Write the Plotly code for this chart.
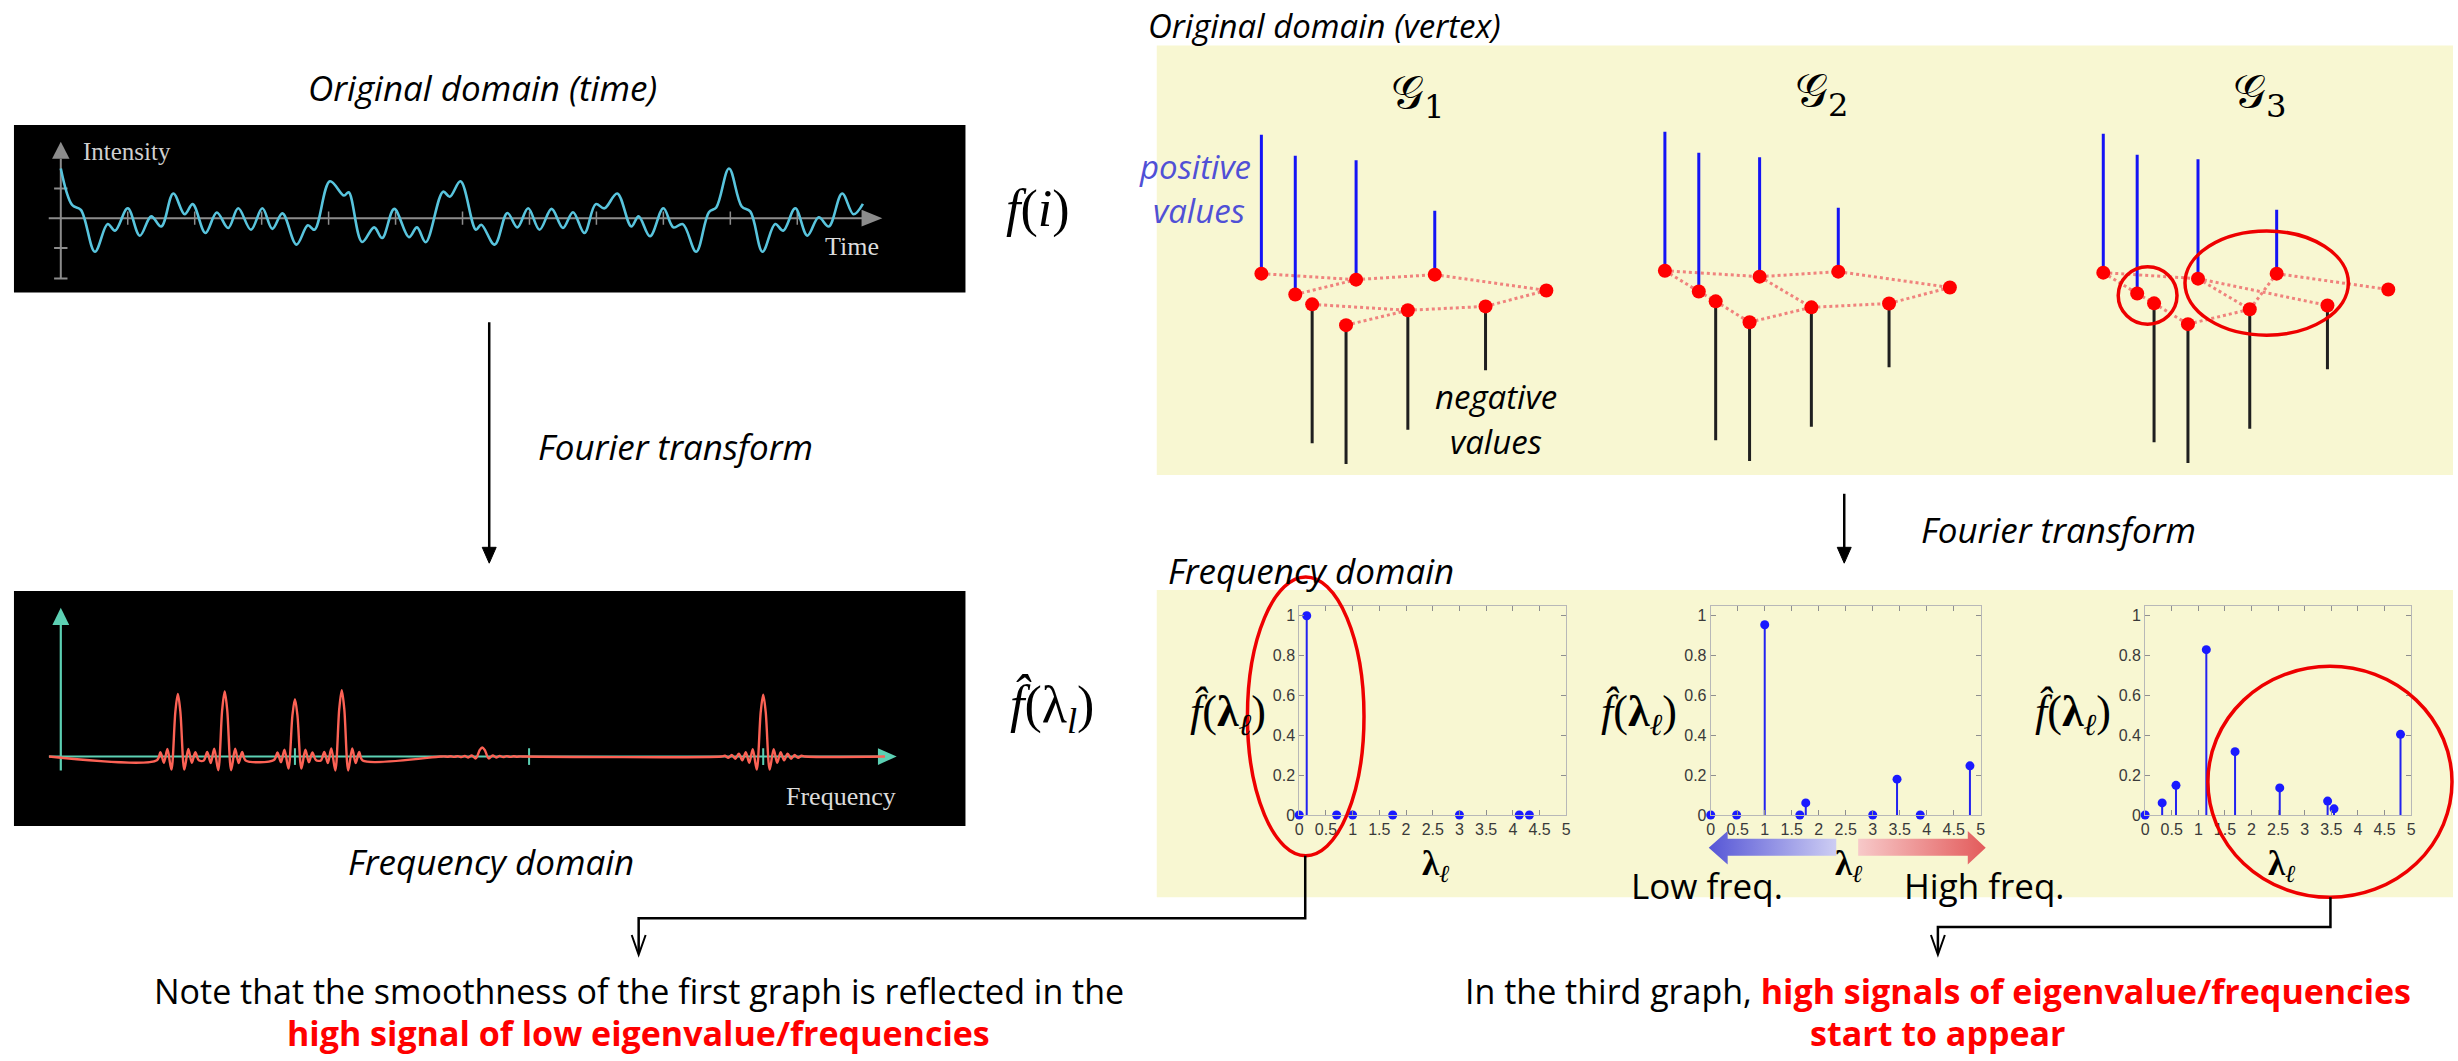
import plotly.graph_objects as go

W, H = 2458, 1061

# ---------------- data ----------------
# time-domain signal: extrema (t in tick units, value in tick units)
TIME_T = [0.0, 0.17, 0.30, 0.51, 0.70, 0.81, 1.0, 1.18, 1.35, 1.50, 1.68, 1.85, 1.97, 2.16,
          2.33, 2.50, 2.65, 2.84, 3.01, 3.16, 3.31, 3.52, 3.69, 3.79, 4.02, 4.23, 4.30, 4.50,
          4.68, 4.80, 4.98, 5.20, 5.32, 5.45, 5.71, 5.81, 5.97, 6.20, 6.28, 6.48, 6.67, 6.82,
          6.98, 7.15, 7.33, 7.50, 7.65, 7.82, 7.99, 8.12, 8.31, 8.52, 8.63, 8.80, 9.00, 9.15,
          9.29, 9.49, 9.68, 9.79, 9.98, 10.17, 10.30, 10.48, 10.67, 10.79, 10.97, 11.15,
          11.32, 11.47, 11.67, 11.84, 11.98]
TIME_V = [1.67, 0.44, 0.28, -1.13, -0.20, -0.42, 0.33, -0.59, 0.06, -0.28, 0.83, 0.13, 0.47, -0.50,
          0.19, -0.33, 0.33, -0.39, 0.33, -0.36, 0.16, -0.89, -0.24, -0.39, 1.24, 0.76, 0.87, -0.80,
          -0.31, -0.67, 0.31, -0.64, -0.31, -0.81, 0.89, 0.72, 1.24, -0.39, -0.22, -0.89, 0.17, -0.31,
          0.33, -0.39, 0.31, -0.33, 0.20, -0.50, 0.47, 0.33, 0.83, -0.28, 0.06, -0.61, 0.33, -0.31,
          -0.20, -1.13, 0.20, 0.36, 1.67, 0.39, 0.22, -1.13, -0.20, -0.42, 0.33, -0.59,
          0.03, -0.28, 0.83, 0.13, 0.48]
TIME_TICKS = [1, 2, 3, 4, 5, 6, 7, 8, 9, 10, 11]

# Fourier magnitude: peak positions / heights and the ringing profile around one peak
FREQ_PEAKS = [0.5, 0.7, 1.0, 1.2, 1.8, 3.0]
FREQ_HEIGHTS = [0.97, 1.01, 0.89, 1.03, 0.14, 0.96]
RING_OFFSET_PX = [0, 2.5, 6.5, 10.5, 14, 17.5, 21, 24.5, 28, 31.5, 35, 38.5, 42]
RING_VALUE = [1.0, 0.72, -0.21, 0.12, -0.10, 0.07, -0.06, 0.045, -0.035, 0.025, -0.02, 0.012, 0.0]
FREQ_TICKS = [1, 2, 3]

# graph signal: vertex layout (shared by the three graphs) and the values on each vertex
VERTEX_X = [0.0, 0.243, 0.364, 0.607, 0.679, 1.050, 1.243, 1.607, 2.043]
VERTEX_Y = [0.0, -0.150, -0.221, -0.371, -0.043, -0.264, -0.007, -0.236, -0.121]
SIGNAL = [1.0, 1.0, -1.0, -1.0, 0.86, -0.86, 0.46, -0.46, 0.0]
EDGES = {
    "1": [(0, 4), (1, 4), (4, 6), (6, 8), (2, 5), (3, 5), (5, 7), (7, 8)],
    "2": [(0, 1), (1, 2), (2, 3), (0, 4), (4, 6), (6, 8), (4, 5), (3, 5), (5, 7), (7, 8)],
    "3": [(0, 1), (1, 2), (2, 3), (0, 4), (3, 5), (4, 5), (4, 7), (5, 6), (6, 8)],
}

# graph Fourier coefficients
LAMBDA = {
    "1": [0, 0.14, 0.70, 1.00, 1.75, 3.00, 4.12, 4.31],
    "2": [0, 0.48, 1.00, 1.65, 1.76, 3.00, 3.45, 3.88, 4.80],
    "3": [0, 0.32, 0.58, 1.15, 1.69, 2.53, 3.43, 3.55, 4.80],
}
FHAT = {
    "1": [0, 1.0, 0, 0, 0, 0, 0, 0],
    "2": [0, 0, 0.955, 0, 0.061, 0, 0.18, 0, 0.247],
    "3": [0, 0.061, 0.149, 0.83, 0.318, 0.136, 0.07, 0.031, 0.405],
}

# ---------------- helpers ----------------
def fx(px):
    return px / W


def fy(py):
    return 1 - py / H


def path(points, close=False):
    s = "M" + " L".join(f"{fx(x):.5f},{fy(y):.5f}" for x, y in points)
    return s + (" Z" if close else "")


YELLOW = "#F8F7D2"
SANS = "Open Sans"
SERIF = "Liberation Serif"

fig = go.Figure()
layout_axes = {}
shapes = []
annotations = []


def frame(idx, box, origin, scale):
    """Axis pair whose domain is the pixel box and whose data units are scale px each."""
    l, t, r, b = box
    ox, oy = origin
    sx, sy = scale
    sfx = "" if idx == 1 else str(idx)
    base = dict(visible=False, fixedrange=True, showgrid=False, zeroline=False)
    layout_axes["xaxis" + sfx] = dict(base, domain=[fx(l), fx(r)], range=[(l - ox) / sx, (r - ox) / sx],
                                      anchor="y" + sfx)
    layout_axes["yaxis" + sfx] = dict(base, domain=[fy(b), fy(t)], range=[(oy - b) / sy, (oy - t) / sy],
                                      anchor="x" + sfx)
    return "x" + sfx, "y" + sfx


def text(x, y, s, size, color="black", family=SANS, xanchor="center"):
    annotations.append(dict(x=fx(x), y=fy(y), xref="paper", yref="paper", text=s, showarrow=False,
                            xanchor=xanchor, yanchor="middle",
                            font=dict(size=size, color=color, family=family)))


# ---------------- panels ----------------
for l, t, r, b, c in [(10, 126, 965, 295, "black"), (10, 596, 965, 833, "black"),
                      (1157, 46, 2458, 479, YELLOW), (1157, 595, 2458, 905, YELLOW)]:
    shapes.append(dict(type="rect", xref="paper", yref="paper", x0=fx(l), x1=fx(r), y0=fy(b), y1=fy(t),
                       fillcolor=c, line=dict(width=0), layer="below"))

# ---------------- time-domain panel ----------------
tx, ty = frame(1, (10, 126, 965, 295), (57, 220), (67.2, 30.0))
GREY = "#8c8c8c"
shapes += [
    dict(type="line", xref=tx, yref=ty, x0=-0.18, x1=11.97, y0=0, y1=0, line=dict(color=GREY, width=2), layer="below"),
    dict(type="path", xref=tx, yref=ty, path="M11.96,0.28 L12.27,0 L11.96,-0.28 Z", fillcolor=GREY,
         line=dict(width=0), layer="below"),
    dict(type="line", xref=tx, yref=ty, x0=0, x1=0, y0=-2.03, y1=2.0, line=dict(color=GREY, width=2), layer="below"),
    dict(type="path", xref=tx, yref=ty, path="M-0.13,2.0 L0,2.57 L0.13,2.0 Z", fillcolor=GREY,
         line=dict(width=0), layer="below"),
]
for yv in (1, -1, -2.03):
    shapes.append(dict(type="line", xref=tx, yref=ty, x0=-0.1, x1=0.1, y0=yv, y1=yv,
                       line=dict(color=GREY, width=2), layer="below"))
for tv in TIME_TICKS:
    shapes.append(dict(type="line", xref=tx, yref=ty, x0=tv, x1=tv, y0=-0.22, y1=0.22,
                       line=dict(color=GREY, width=1.5), layer="below"))
fig.add_trace(go.Scatter(x=TIME_T, y=TIME_V, xaxis=tx, yaxis=ty, mode="lines", hoverinfo="skip",
                         line=dict(color="#58C4DD", width=2.6, shape="spline", smoothing=1.0)))
text(77, 153, "Intensity", 25, "#cfcfcf", SERIF, "left")
text(880, 249, "Time", 26, "#dcdcdc", SERIF, "right")

# ---------------- frequency panel ----------------
FREQ_PX = 235.0
fxa, fya = frame(2, (10, 596, 965, 833), (57, 763), (FREQ_PX, 65.0))
TEAL = "#5CD0B3"
shapes += [
    dict(type="line", xref=fxa, yref=fya, x0=-0.051, x1=3.50, y0=0, y1=0, line=dict(color=TEAL, width=2.2), layer="below"),
    dict(type="path", xref=fxa, yref=fya, path="M3.49,0.13 L3.57,0 L3.49,-0.13 Z", fillcolor=TEAL,
         line=dict(width=0), layer="below"),
    dict(type="line", xref=fxa, yref=fya, x0=0, x1=0, y0=-0.215, y1=2.05, line=dict(color=TEAL, width=2.2), layer="below"),
    dict(type="path", xref=fxa, yref=fya, path="M-0.036,2.04 L0,2.31 L0.036,2.04 Z", fillcolor=TEAL,
         line=dict(width=0), layer="below"),
]
for fv in FREQ_TICKS:
    shapes.append(dict(type="line", xref=fxa, yref=fya, x0=fv, x1=fv, y0=-0.13, y1=0.13,
                       line=dict(color=TEAL, width=2), layer="below"))

pts = [(-0.05, 0.0), (3.52, 0.0)]
for i, (c, h) in enumerate(zip(FREQ_PEAKS, FREQ_HEIGHTS)):
    gaps = [abs(c - o) for j, o in enumerate(FREQ_PEAKS) if j != i]
    half = min(gaps) / 2
    for off_px, v in zip(RING_OFFSET_PX, RING_VALUE):
        off = off_px / FREQ_PX
        if off > 0 and off >= half:
            continue
        for s in ((1,) if off == 0 else (-1, 1)):
            pts.append((c + s * off, h * v))
pts.sort()
fig.add_trace(go.Scatter(x=[p[0] for p in pts], y=[p[1] for p in pts], xaxis=fxa, yaxis=fya,
                         mode="lines", hoverinfo="skip",
                         line=dict(color="#FC6255", width=2.4, shape="spline", smoothing=0.9)))
text(897, 803, "Frequency", 26, "#dcdcdc", SERIF, "right")

# ---------------- vertex-domain graphs ----------------
GRAPH_ANCHORS = {"1": (1262, 276), "2": (1667, 273), "3": (2107, 275)}
for k, idx in zip(["1", "2", "3"], [3, 4, 5]):
    ax0, ay0 = GRAPH_ANCHORS[k]
    gx, gy = frame(idx, (ax0 - 70, ay0 - 196, ax0 + 350, ay0 + 224), (ax0, ay0), (140.0, 140.0))
    ex, ey = [], []
    for a, b in EDGES[k]:
        ex += [VERTEX_X[a], VERTEX_X[b], None]
        ey += [VERTEX_Y[a], VERTEX_Y[b], None]
    fig.add_trace(go.Scatter(x=ex, y=ey, xaxis=gx, yaxis=gy, mode="lines", hoverinfo="skip",
                             line=dict(color="rgba(238,110,110,0.85)", width=3, dash="dot")))
    for sign, col in ((1, "#1414F5"), (-1, "#1f1f1f")):
        sx, sy = [], []
        for vx, vy, s in zip(VERTEX_X, VERTEX_Y, SIGNAL):
            if s * sign > 0:
                sx += [vx, vx, None]
                sy += [vy, vy + s, None]
        fig.add_trace(go.Scatter(x=sx, y=sy, xaxis=gx, yaxis=gy, mode="lines", hoverinfo="skip",
                                 line=dict(color=col, width=3)))
    fig.add_trace(go.Scatter(x=VERTEX_X, y=VERTEX_Y, xaxis=gx, yaxis=gy, mode="markers", hoverinfo="skip",
                             cliponaxis=False, marker=dict(color="#FF0000", size=14)))
    annotations.append(dict(x=1.12, y=1.28, xref=gx, yref=gy, showarrow=False,
                            text=f"𝒢<sub>{k}</sub>", font=dict(size=46, family="DejaVu Serif", color="black")))

# highlighted regions in the third graph
for l, t, r, b in [(2122, 269, 2181, 327), (2189, 233, 2353, 338)]:
    shapes.append(dict(type="circle", xref="paper", yref="paper", x0=fx(l), x1=fx(r), y0=fy(b), y1=fy(t),
                       line=dict(color="#EE0000", width=3.5)))

# ---------------- spectra ----------------
SPEC_BOXES = {"1": (1300, 611, 1568, 822), "2": (1713, 611, 1984, 822), "3": (2149, 611, 2416, 822)}
tickfont = dict(family="Liberation Sans", size=16, color="#3a3a3a")
axstyle = dict(visible=True, showline=True, linecolor="#b8b8b8", linewidth=1, mirror="allticks",
               ticks="inside", ticklen=5, tickcolor="#8f8f8f", tickfont=tickfont)
for k, idx in zip(["1", "2", "3"], [6, 7, 8]):
    l, t, r, b = SPEC_BOXES[k]
    sfx = str(idx)
    layout_axes["xaxis" + sfx] = dict(axstyle, domain=[fx(l), fx(r)], range=[0, 5], dtick=0.5, tick0=0,
                                      anchor="y" + sfx, fixedrange=True, showgrid=False, zeroline=False)
    layout_axes["yaxis" + sfx] = dict(axstyle, domain=[fy(b), fy(t)], range=[0, 1.05], dtick=0.2, tick0=0,
                                      anchor="x" + sfx, fixedrange=True, showgrid=False, zeroline=False)
    sx, sy = [], []
    for lam, v in zip(LAMBDA[k], FHAT[k]):
        if v > 0:
            sx += [lam, lam, None]
            sy += [0, v, None]
    fig.add_trace(go.Scatter(x=sx, y=sy, xaxis="x" + sfx, yaxis="y" + sfx, mode="lines", hoverinfo="skip",
                             line=dict(color="#2222F0", width=2)))
    fig.add_trace(go.Scatter(x=LAMBDA[k], y=FHAT[k], xaxis="x" + sfx, yaxis="y" + sfx, mode="markers",
                             cliponaxis=False, hoverinfo="skip", marker=dict(color="#1a1aff", size=9)))
    cx = (l + r) / 2
    text(cx + 3, 873, "<b>λ</b><sub><i>ℓ</i></sub>", 35, "black", SERIF)
    text(l - 72, 720, "<i>f̂</i>(<b>λ</b><sub><i>ℓ</i></sub>)", 44, "black", SERIF)

# overlay in page pixels for the gradient direction arrows
ox, oy = "x9", "y9"
layout_axes["xaxis9"] = dict(domain=[0, 1], range=[0, W], visible=False, fixedrange=True, anchor="y9")
layout_axes["yaxis9"] = dict(domain=[0, 1], range=[H, 0], visible=False, fixedrange=True, anchor="x9")
fig.add_trace(go.Scatter(
    x=[1711, 1730, 1730, 1839, 1839, 1730, 1730, 1711], y=[855, 838, 846, 846, 863, 863, 872, 855],
    xaxis=ox, yaxis=oy, mode="lines", fill="toself", line=dict(width=0), hoverinfo="skip",
    fillgradient=dict(type="horizontal", colorscale=[[0, "#5656D6"], [1, "#CDCDF3"]])))
fig.add_trace(go.Scatter(
    x=[1861, 1971, 1971, 1989, 1971, 1971, 1861, 1861], y=[846, 846, 838, 855, 872, 863, 863, 846],
    xaxis=ox, yaxis=oy, mode="lines", fill="toself", line=dict(width=0), hoverinfo="skip",
    fillgradient=dict(type="horizontal", colorscale=[[0, "#F7C9C9"], [1, "#E35B5B"]])))

# red ellipses on the spectra
for l, t, r, b in [(1248, 582, 1365, 863), (2212, 672, 2457, 905)]:
    shapes.append(dict(type="circle", xref="paper", yref="paper", x0=fx(l), x1=fx(r), y0=fy(b), y1=fy(t),
                       line=dict(color="#EE0000", width=3.5)))

# ---------------- arrows and connectors ----------------
for x, y0, y1 in [(487, 325, 555), (1847, 498, 555)]:
    shapes.append(dict(type="line", xref="paper", yref="paper", x0=fx(x), x1=fx(x), y0=fy(y0), y1=fy(y1),
                       line=dict(color="black", width=2.5)))
    shapes.append(dict(type="path", xref="paper", yref="paper",
                       path=path([(x - 7, y1 - 3), (x, y1 + 13), (x + 7, y1 - 3)], close=True),
                       fillcolor="black", line=dict(color="black", width=1)))
for pts_ in [[(1306, 863), (1306, 926), (637, 926), (637, 961)],
             [(2335, 905), (2335, 935), (1941, 935), (1941, 961)]]:
    shapes.append(dict(type="path", xref="paper", yref="paper", path=path(pts_),
                       line=dict(color="black", width=2.5)))
    ax_, ay_ = pts_[-1]
    shapes.append(dict(type="path", xref="paper", yref="paper",
                       path=path([(ax_ - 7, ay_ - 18), (ax_, ay_ + 2), (ax_ + 7, ay_ - 18)]),
                       line=dict(color="black", width=2)))

# ---------------- text ----------------
text(480, 88, "<i>Original domain (time)</i>", 35)
text(674, 450, "<i>Fourier transform</i>", 35)
text(489, 869, "<i>Frequency domain</i>", 35)
text(1146, 26, "<i>Original domain (vertex)</i>", 33, xanchor="left")
text(2062, 534, "<i>Fourier transform</i>", 35)
text(1166, 575, "<i>Frequency domain</i>", 35, xanchor="left")
text(1195, 168, "<i>positive</i>", 33, "#5050D6")
text(1199, 212, "<i>values</i>", 33, "#5050D6")
text(1497, 400, "<i>negative</i>", 33)
text(1497, 445, "<i>values</i>", 33)
text(1038, 211, "<i>f</i>(<i>i</i>)", 52, "black", SERIF)
text(1052, 714, "<i>f̂</i>(λ<sub><i>l</i></sub>)", 52, "black", SERIF)
text(1709, 893, "Low freq.", 35)
text(1988, 893, "High freq.", 35)
text(637, 999, "Note that the smoothness of the first graph is reflected in the", 34)
text(637, 1042, "<b>high signal of low eigenvalue/frequencies</b>", 34, "#FF0000")
text(1941, 999, "In the third graph, <b><span style='color:#FF0000'>high signals of eigenvalue/frequencies</span></b>", 34)
text(1941, 1042, "<b>start to appear</b>", 34, "#FF0000")

fig.update_layout(width=W, height=H, autosize=False, margin=dict(l=0, r=0, t=0, b=0),
                  paper_bgcolor="white", plot_bgcolor="rgba(0,0,0,0)", showlegend=False,
                  shapes=shapes, annotations=annotations, **layout_axes)
fig.write_html("out.html")
